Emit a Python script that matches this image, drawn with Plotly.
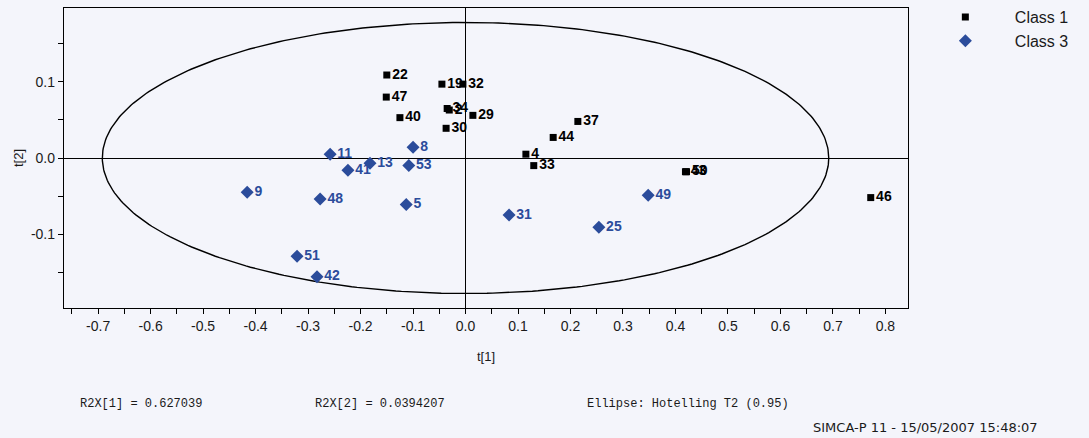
import numpy as np
import plotly.graph_objects as go

# Class 1 (black squares)
c1_labels = ["22", "19", "32", "47", "40", "34", "2", "29", "30", "37", "44", "4", "33", "43", "50", "46"]
c1_t1 = [-0.150, -0.045, -0.005, -0.151, -0.125, -0.035, -0.031, 0.014, -0.037, 0.214, 0.167, 0.115, 0.130, 0.419, 0.421, 0.772]
c1_t2 = [0.109, 0.097, 0.097, 0.080, 0.053, 0.065, 0.063, 0.056, 0.039, 0.048, 0.027, 0.005, -0.010, -0.018, -0.018, -0.052]

# Class 3 (blue diamonds)
c3_labels = ["11", "8", "41", "13", "53", "9", "48", "5", "51", "42", "31", "25", "49"]
c3_t1 = [-0.258, -0.100, -0.224, -0.182, -0.108, -0.416, -0.277, -0.113, -0.321, -0.283, 0.083, 0.254, 0.348]
c3_t2 = [0.005, 0.014, -0.016, -0.007, -0.010, -0.045, -0.054, -0.061, -0.129, -0.156, -0.075, -0.091, -0.049]

# Hotelling T2 (0.95) ellipse semi-axes
ell_a = 0.692
ell_b = 0.178

x_ticks = [-0.7, -0.6, -0.5, -0.4, -0.3, -0.2, -0.1, 0.0, 0.1, 0.2, 0.3, 0.4, 0.5, 0.6, 0.7, 0.8]
x_ticktext = ["-0.7", "-0.6", "-0.5", "-0.4", "-0.3", "-0.2", "-0.1", "0.0", "0.1", "0.2", "0.3", "0.4", "0.5", "0.6", "0.7", "0.8"]
y_ticks = [-0.1, 0.0, 0.1]
y_ticktext = ["-0.1", "0.0", "0.1"]

BLUE = "#2b4c9b"
BG = "#f4f5fb"

theta = np.linspace(0, 2 * np.pi, 400)
fig = go.Figure()
fig.add_trace(go.Scatter(x=ell_a * np.cos(theta), y=ell_b * np.sin(theta), mode="lines",
                         line=dict(color="black", width=1.4), showlegend=False, hoverinfo="skip"))
fig.add_trace(go.Scatter(x=c1_t1, y=c1_t2, mode="markers+text", name="Class 1",
                         text=c1_labels, textposition="middle right",
                         textfont=dict(family="Liberation Sans", size=14, color="black", weight="bold"),
                         marker=dict(symbol="square", size=7, color="black")))
fig.add_trace(go.Scatter(x=c3_t1, y=c3_t2, mode="markers+text", name="Class 3",
                         text=c3_labels, textposition="middle right",
                         textfont=dict(family="Liberation Sans", size=14, color=BLUE, weight="bold"),
                         marker=dict(symbol="diamond", size=10, color=BLUE)))

fig.update_layout(
    width=1089, height=438,
    margin=dict(l=64, r=181, t=8, b=130, autoexpand=False),
    paper_bgcolor=BG, plot_bgcolor=BG,
    font=dict(family="Liberation Sans", size=14, color="#1a1a1a"),
    showlegend=True,
    legend=dict(x=1.0093, y=1.0, xref="paper", yref="container", xanchor="left", yanchor="top",
                bgcolor="rgba(0,0,0,0)",
                font=dict(size=16, color="#1a1a1a"), itemwidth=89, tracegroupgap=0),
    xaxis=dict(range=[-0.765, 0.843], tickvals=x_ticks, ticktext=x_ticktext,
               ticks="outside", ticklen=5, tickcolor="black",
               minor=dict(dtick=0.05, tick0=0, ticks="outside", ticklen=5, tickcolor="black"),
               showgrid=False, zeroline=True, zerolinecolor="black", zerolinewidth=1.2,
               showline=True, linecolor="black", linewidth=1.3, mirror=True,
               title=dict(text="t[1]", font=dict(size=13), standoff=18)),
    yaxis=dict(range=[-0.197, 0.197], tickvals=y_ticks, ticktext=y_ticktext,
               ticks="outside", ticklen=5, tickcolor="black",
               minor=dict(dtick=0.05, tick0=0, ticks="outside", ticklen=5, tickcolor="black"),
               showgrid=False, zeroline=True, zerolinecolor="black", zerolinewidth=1.2,
               showline=True, linecolor="black", linewidth=1.3, mirror=True,
               title=dict(text="t[2]", font=dict(size=13), standoff=4)),
)

mono = dict(family="Liberation Mono", size=12, color="#1a1a1a")
for txt, xp in [("R2X[1] = 0.627039", 78), ("R2X[2] = 0.0394207", 313), ("Ellipse: Hotelling T2 (0.95)", 585)]:
    fig.add_annotation(text=txt, xref="paper", yref="paper",
                       x=(xp - 64) / 844, y=-(404 - 308) / 300, xanchor="left", yanchor="middle",
                       showarrow=False, font=mono)
fig.add_annotation(text="SIMCA-P 11 - 15/05/2007 15:48:07", xref="paper", yref="paper",
                   x=(1040 - 64) / 844, y=-(427 - 308) / 300, xanchor="right", yanchor="middle",
                   showarrow=False, font=dict(family="DejaVu Sans", size=13, color="#1a1a1a"))

fig.write_html("out.html")
